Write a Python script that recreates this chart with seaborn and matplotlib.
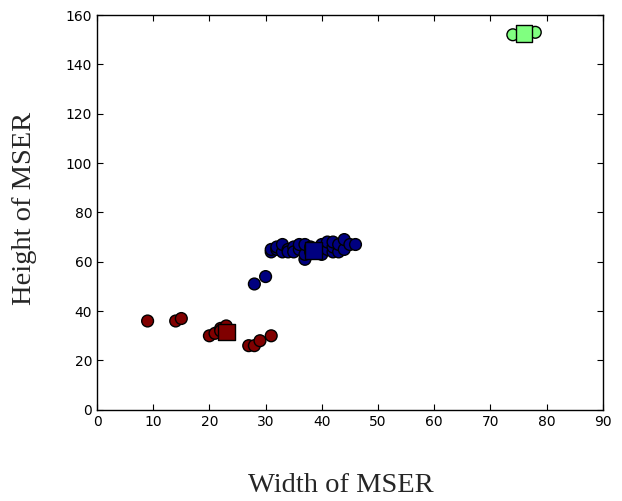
import matplotlib
matplotlib.use("Agg")
import matplotlib.pyplot as plt
import seaborn as sns
import pandas as pd

# cluster points (width, height of MSER)
red_w = [9, 14, 15, 20, 21, 22, 22, 23, 27, 28, 29, 31]
red_h = [36, 36, 37, 30, 31, 33, 32, 34, 26, 26, 28, 30]
blue_w = [28, 30, 31, 31, 32, 32, 33, 33, 34, 34, 35, 35, 36, 36, 37, 37, 37, 38, 38, 39,
          40, 40, 40, 41, 41, 42, 42, 42, 43, 43, 44, 44, 45, 46]
blue_h = [51, 54, 64, 65, 65, 66, 64, 67, 65, 64, 66, 64, 65, 67, 61, 63, 67, 64, 66, 65,
          63, 66, 67, 65, 68, 64, 66, 68, 64, 67, 65, 69, 67, 67]
green_w = [74, 78]
green_h = [152, 153]
# cluster centres
cent_w = [23, 38.5, 76]
cent_h = [31.5, 64.5, 152.5]
clusters = ["red", "blue", "green"]
colors = {"red": "#800000", "blue": "#000080", "green": "#80ff80"}

pts = pd.DataFrame({
    "w": red_w + blue_w + green_w,
    "h": red_h + blue_h + green_h,
    "c": ["red"] * len(red_w) + ["blue"] * len(blue_w) + ["green"] * len(green_w),
})
cents = pd.DataFrame({"w": cent_w, "h": cent_h, "c": clusters})

sns.set_style("white")
plt.rcParams["xtick.direction"] = "in"
plt.rcParams["ytick.direction"] = "in"

fig = plt.figure(figsize=(6.22, 5.01), dpi=100)
ax = fig.add_axes([0.156, 0.182, 0.813, 0.788])

sns.scatterplot(data=pts, x="w", y="h", hue="c", palette=colors, s=72,
                edgecolor="black", linewidth=1.0, legend=False, ax=ax, zorder=2)
sns.scatterplot(data=cents, x="w", y="h", hue="c", palette=colors, s=145, marker="s",
                edgecolor="black", linewidth=1.0, legend=False, ax=ax, zorder=3)

ax.set_xlim(0, 90)
ax.set_ylim(0, 160)
ax.set_xticks(range(0, 91, 10))
ax.set_yticks(range(0, 161, 20))
ax.tick_params(axis="both", direction="in", length=4, width=0.8, labelsize=10,
               top=True, right=True, bottom=True, left=True, colors="black")
for sp in ax.spines.values():
    sp.set_color("black")
    sp.set_linewidth(1.0)
ax.set_xlabel("Width of MSER", fontsize=20.5, family="Liberation Serif")
ax.set_ylabel("Height of MSER", fontsize=20.5, family="Liberation Serif")
ax.xaxis.set_label_coords(0.482, -0.161)
ax.yaxis.set_label_coords(-0.119, 0.51)

fig.savefig("out.png", dpi=100)
